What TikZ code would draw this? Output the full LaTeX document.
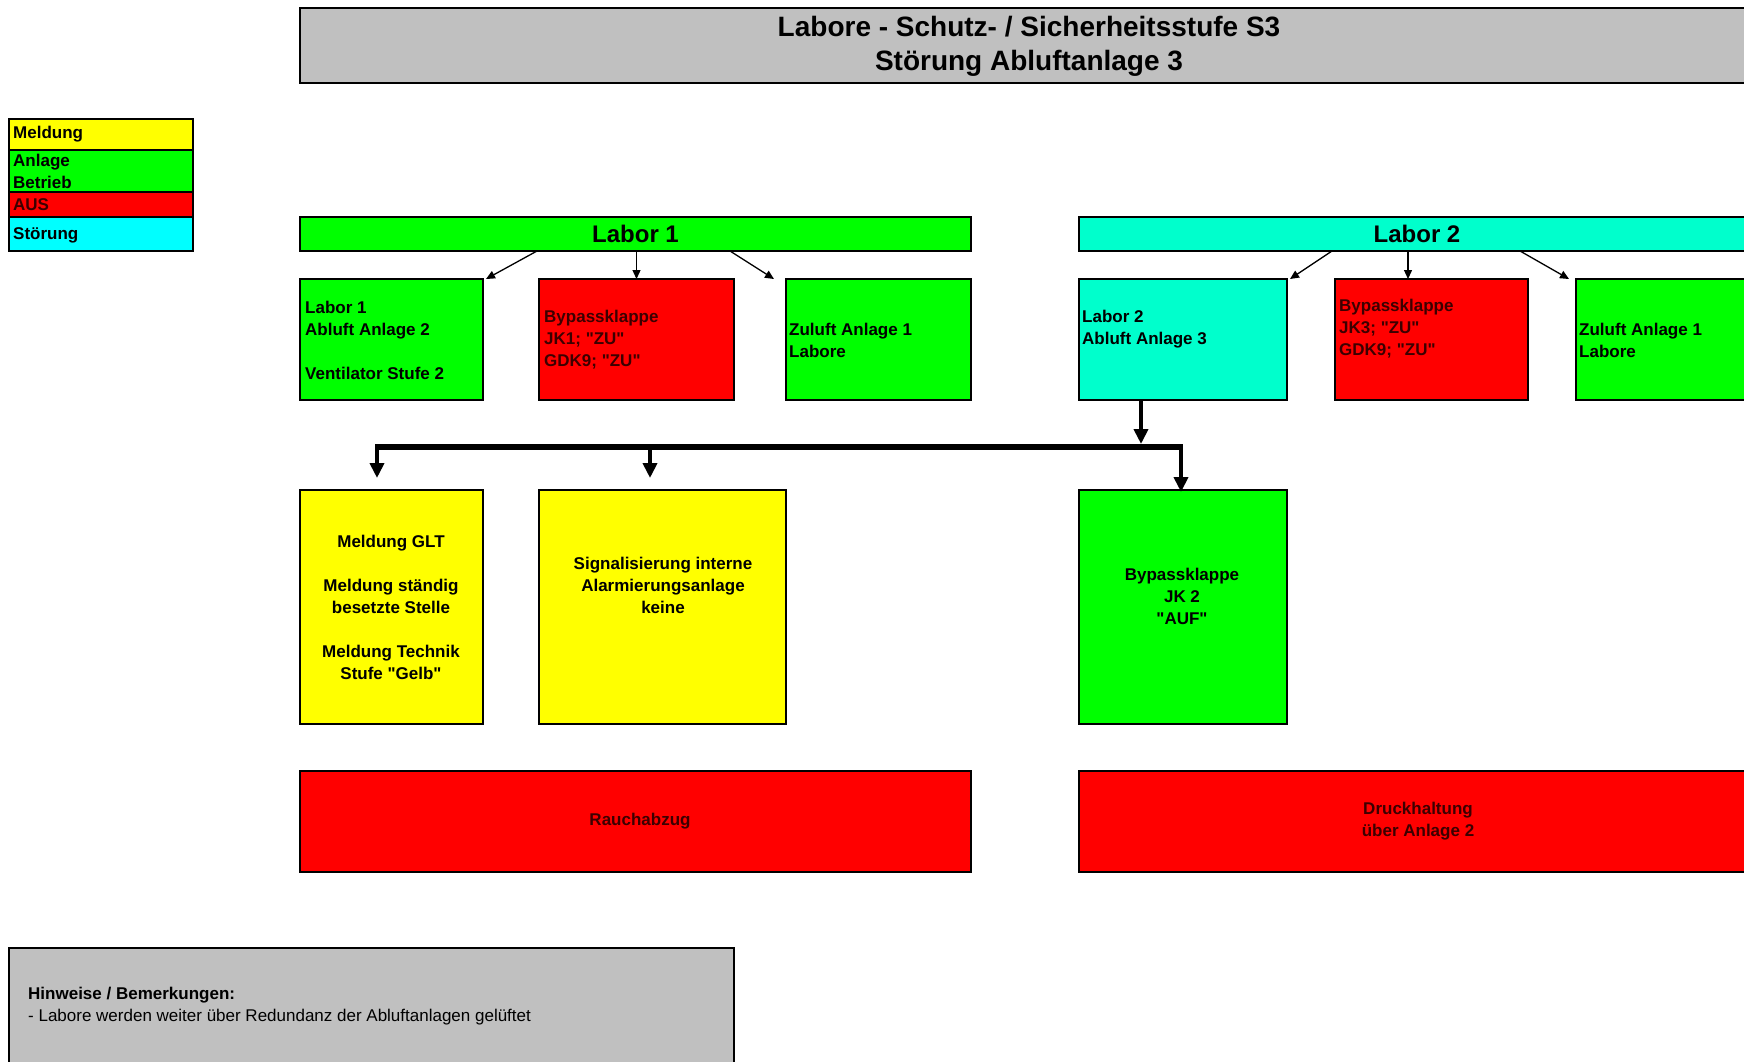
\documentclass[tikz,border=0pt]{standalone}
\usepackage{fontspec}
\setmainfont{Liberation Sans}[Ligatures=TeXOff]
\usetikzlibrary{arrows.meta}
\definecolor{xgreen}{HTML}{00FF00}
\definecolor{xred}{HTML}{FF0000}
\definecolor{xyellow}{HTML}{FFFF00}
\definecolor{xcyan}{HTML}{00FFFF}
\definecolor{xaqua}{HTML}{00FFCC}
\definecolor{xgray}{HTML}{C0C0C0}
\definecolor{xdark}{HTML}{3C0000}
\newcommand{\qd}{{\char34}}
\begin{document}
\begin{tikzpicture}[x=1pt,y=-1pt,
  box/.style={draw=black,line width=2.5pt,anchor=north west,inner sep=0pt,outer sep=0pt},
  legbox/.style={draw=black,line width=1.5pt,anchor=north west,inner sep=0pt,outer sep=0pt,minimum width=184pt},
  txt/.style={font=\bfseries\fontsize{17}{22}\selectfont,inner sep=0pt},
  redtxt/.style={txt,text=xdark},
  bartxt/.style={font=\bfseries\fontsize{24}{28}\selectfont},
  tarrow/.style={line width=1.3pt,-{Triangle[length=9pt,width=8pt]}},
  busline/.style={line width=6pt},
  busarrow/.style={line width=4pt,-{Triangle[length=15pt,width=14pt]}}
]
\useasboundingbox (0,0) rectangle (1744,1061);
\fill[white] (0,0) rectangle (1744,1061);
\clip (0,0) rectangle (1744,1061);

% title
\node[box,fill=xgray,minimum width=1458pt,minimum height=75pt] (title) at (300,8) {};
\node[font=\bfseries\fontsize{28}{34}\selectfont,align=center,inner sep=0pt] (titlet) at (1029,46) {Labore - Schutz- / Sicherheitsstufe S3\\Störung Abluftanlage 3};

% legend
\node[legbox,fill=xyellow,minimum height=31pt] (lg1) at (9,119) {};
\node[legbox,fill=xgreen,minimum height=42pt] (lg2) at (9,150) {};
\node[legbox,fill=xred,minimum height=25pt] (lg3) at (9,192) {};
\node[legbox,fill=xcyan,minimum height=34pt] (lg4) at (9,217) {};
\node[txt,anchor=west] (lg1t) at (13,134) {Meldung};
\node[txt,anchor=west,align=left] (lg2t) at (13,171) {Anlage\\Betrieb};
\node[redtxt,anchor=west] (lg3t) at (13,205) {AUS};
\node[txt,anchor=west] (lg4t) at (13,235) {Störung};

% Labor bars
\node[box,fill=xgreen,minimum width=671pt,minimum height=34pt,bartxt] (lab1) at (300,217) {Labor 1};
\node[box,fill=xaqua,minimum width=676pt,minimum height=34pt,bartxt] (lab2) at (1079,217) {Labor 2};

% row 2
\node[box,fill=xgreen,minimum width=183pt,minimum height=121pt] (a1) at (300,279) {};
\node[box,fill=xred,minimum width=195pt,minimum height=121pt] (b1) at (539,279) {};
\node[box,fill=xgreen,minimum width=185pt,minimum height=121pt] (c1) at (786,279) {};
\node[box,fill=xaqua,minimum width=208pt,minimum height=121pt] (a2) at (1079,279) {};
\node[box,fill=xred,minimum width=193pt,minimum height=121pt] (b2) at (1335,279) {};
\node[box,fill=xgreen,minimum width=185pt,minimum height=121pt] (c2) at (1576,279) {};

\node[txt,anchor=west,align=left] (a1t) at (305,340) {Labor 1\\Abluft Anlage 2\\[22pt]Ventilator Stufe 2};
\node[redtxt,anchor=west,align=left] (b1t) at (544,340) {Bypassklappe\\JK1; \qd ZU\qd\\GDK9; \qd ZU\qd};
\node[txt,anchor=west,align=left] (c1t) at (789,340) {Zuluft Anlage 1\\Labore};
\node[txt,anchor=west,align=left] (a2t) at (1082,329) {Labor 2\\Abluft Anlage 3};
\node[redtxt,anchor=west,align=left] (b2t) at (1339,329) {Bypassklappe\\JK3; \qd ZU\qd\\GDK9; \qd ZU\qd};
\node[txt,anchor=west,align=left] (c2t) at (1579,340) {Zuluft Anlage 1\\Labore};

% row 3
\node[box,fill=xyellow,minimum width=183pt,minimum height=234pt] (m3) at (300,490) {};
\node[box,fill=xyellow,minimum width=247pt,minimum height=234pt] (s3) at (539,490) {};
\node[box,fill=xgreen,minimum width=208pt,minimum height=234pt] (j3) at (1079,490) {};

\node[txt,align=center] (m3t) at (391,607) {Meldung GLT\\[22pt]Meldung ständig\\besetzte Stelle\\[22pt]Meldung Technik\\Stufe \qd Gelb\qd};
\node[txt,align=center] (s3t) at (663,585) {Signalisierung interne\\Alarmierungsanlage\\keine};
\node[txt,align=center] (j3t) at (1182,596) {Bypassklappe\\JK 2\\\qd AUF\qd};

% row 4
\node[box,fill=xred,minimum width=671pt,minimum height=101pt] (r4) at (300,771) {};
\node[box,fill=xred,minimum width=678pt,minimum height=101pt] (d4) at (1079,771) {};
\node[redtxt,align=center] (r4t) at (640,821) {Rauchabzug};
\node[redtxt,align=center] (d4t) at (1418,821) {Druckhaltung\\über Anlage 2};

% notes
\node[box,fill=xgray,minimum width=725pt,minimum height=130pt] (h5) at (9,948) {};
\node[inner sep=0pt,anchor=west,align=left,font=\fontsize{17}{22}\selectfont] (h5t) at (28,1006) {\textbf{Hinweise / Bemerkungen:}\\- Labore werden weiter über Redundanz der Abluftanlagen gelüftet};

% thin arrows
\draw[tarrow] ([xshift=237pt]lab1.south west) -- ([xshift=3pt]a1.north east);
\draw[tarrow] (b1.north |- lab1.south) -- (b1.north);
\draw[tarrow] ([xshift=430pt]lab1.south west) -- ([xshift=-12pt]c1.north west);
\draw[tarrow] ([xshift=253pt]lab2.south west) -- ([xshift=3pt]a2.north east);
\draw[tarrow] ([xshift=329pt]lab2.south west) -- ([xshift=73pt]b2.north west);
\draw[tarrow] ([xshift=441pt]lab2.south west) -- ([xshift=-7pt]c2.north west);

% thick bus
\coordinate (t0) at ([xshift=62pt]a2.south west);
\coordinate (jL) at (377,447);
\coordinate (jM) at (650,447);
\coordinate (jR) at (1181,447);
\draw[busline] ([xshift=-2pt]jL) -- ([xshift=2pt]jR);
\draw[busarrow,shorten >=3pt] (t0) -- (t0 |- jL);
\draw[busarrow,shorten >=12pt] (jL) -- (jL |- m3.north);
\draw[busarrow,shorten >=12pt] (jM) -- (jM |- s3.north);
\draw[busarrow,shorten >=-2pt] (jR) -- (jR |- j3.north);
\end{tikzpicture}
\end{document}
